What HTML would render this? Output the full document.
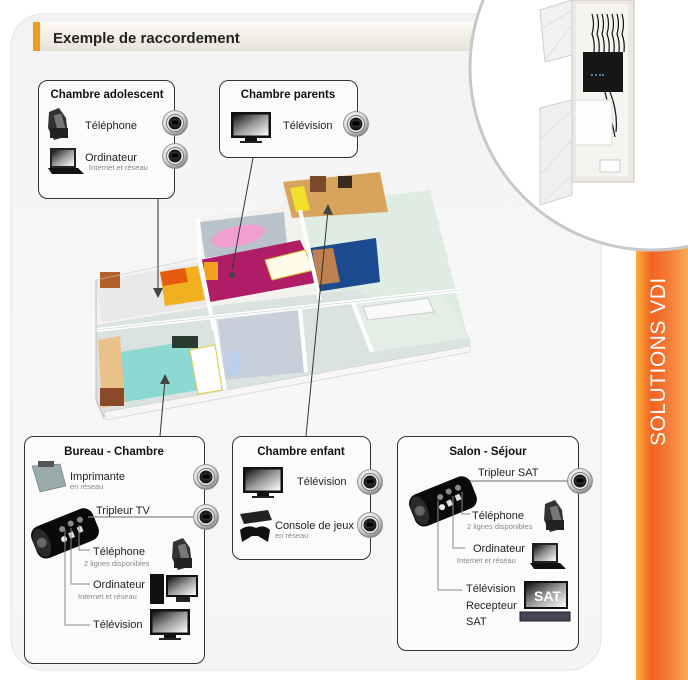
<!DOCTYPE html>
<html><head><meta charset="utf-8">
<style>
html,body{margin:0;padding:0;background:#fff;}
body{width:688px;height:680px;overflow:hidden;position:relative;font-family:"Liberation Sans",sans-serif;}
svg{position:absolute;left:0;top:0;}
.t{font-family:"Liberation Sans",sans-serif;fill:#222;font-size:11px;}
.s{font-family:"Liberation Sans",sans-serif;fill:#888;font-size:7.5px;}
.h{font-family:"Liberation Sans",sans-serif;fill:#111;font-size:11.5px;font-weight:bold;}
</style></head><body>
<svg width="688" height="680" viewBox="0 0 688 680" xmlns="http://www.w3.org/2000/svg">
<defs>
<linearGradient id="panel" x1="0" y1="0" x2="0" y2="1"><stop offset="0" stop-color="#f3f3f3"/><stop offset="0.5" stop-color="#f7f7f7"/><stop offset="1" stop-color="#f5f5f5"/></linearGradient>
<linearGradient id="org" x1="0" y1="0" x2="1" y2="0"><stop offset="0" stop-color="#fbb03a"/><stop offset="0.3" stop-color="#f26322"/><stop offset="0.6" stop-color="#f47a35"/><stop offset="1" stop-color="#fba85a"/></linearGradient>
<linearGradient id="title" x1="0" y1="0" x2="0" y2="1"><stop offset="0" stop-color="#fbf9f4"/><stop offset="1" stop-color="#e8e3da"/></linearGradient>
<radialGradient id="jack" cx="0.4" cy="0.35" r="0.7"><stop offset="0" stop-color="#ffffff"/><stop offset="0.6" stop-color="#d8d8d8"/><stop offset="1" stop-color="#777"/></radialGradient>
<linearGradient id="tv" x1="0" y1="0" x2="1" y2="1"><stop offset="0" stop-color="#111"/><stop offset="0.5" stop-color="#999"/><stop offset="1" stop-color="#fff"/></linearGradient>
<g id="j"><circle r="12.5" fill="url(#jack)" stroke="#888" stroke-width="0.8"/><circle r="8.5" fill="#f2f2f2" stroke="#777" stroke-width="1"/><circle r="6.5" fill="#1a1a1a"/><rect x="-4" y="-3" width="8" height="5" fill="#000" stroke="#555" stroke-width="0.6"/></g>
<g id="tvi"><rect x="0" y="0" width="40" height="26" fill="#111"/><rect x="2.5" y="2.5" width="35" height="21" fill="url(#tv)"/><rect x="14" y="26" width="12" height="3" fill="#111"/><rect x="9" y="29" width="22" height="2" fill="#222"/></g>
<g id="ph"><path d="M3 6 L13 2 L20 12 L22 30 L8 34 L2 22 Z" fill="#333"/><rect x="10" y="8" width="8" height="20" rx="2" fill="#777" transform="rotate(-15 14 18)"/><rect x="4" y="22" width="18" height="10" fill="#222"/></g>
<g id="lap"><path d="M2 0 L28 0 L28 20 L2 20 Z" fill="#222"/><rect x="4" y="2" width="22" height="16" fill="url(#tv)"/><path d="M0 20 L30 20 L36 26 L4 26 Z" fill="#111"/></g>
<g id="trip"><g transform="rotate(-22)"><rect x="0" y="0" width="66" height="34" rx="10" fill="#0a0a0a"/><ellipse cx="8" cy="17" rx="8" ry="15" fill="#2a2a2a"/><circle cx="8" cy="17" r="5" fill="#666"/><circle cx="32" cy="12" r="3" fill="#888"/><circle cx="42" cy="10" r="3" fill="#888"/><circle cx="52" cy="10" r="3" fill="#888"/><rect x="36" y="18" width="5" height="6" fill="#ddd"/><rect x="46" y="16" width="5" height="6" fill="#ddd"/><circle cx="30" cy="22" r="3" fill="#eee"/></g></g>
</defs>

<rect x="11" y="14" width="590" height="656" rx="32" fill="url(#panel)" stroke="#e4e4e4" stroke-width="1"/>
<rect x="636" y="245" width="52" height="435" fill="url(#org)"/>
<text x="0" y="0" transform="translate(665,446) rotate(-90)" font-family="Liberation Sans, sans-serif" font-size="21" fill="#fff" letter-spacing="0.5">SOLUTIONS VDI</text>

<rect x="33" y="22" width="450" height="29" fill="url(#title)"/>
<rect x="33" y="22" width="7" height="29" fill="#f39a1e"/>
<text x="53" y="43" font-family="Liberation Sans, sans-serif" font-size="15" font-weight="bold" fill="#222">Exemple de raccordement</text>

<circle cx="652" cy="68" r="182" fill="#fff" stroke="#c8c8c8" stroke-width="3"/>
<rect x="572" y="0" width="62" height="182" fill="#ece8e2" stroke="#c8c2b8"/>
<rect x="576" y="4" width="52" height="172" fill="#f6f4f0"/>
<g stroke="#111" stroke-width="1.2" fill="none">
<path d="M592 14 q3 10 0 20 q3 8 2 18"/><path d="M597 14 q3 10 0 20 q3 8 2 18"/><path d="M602 14 q3 10 0 20 q3 8 2 18"/><path d="M607 14 q3 10 0 20 q3 8 2 18"/><path d="M612 14 q3 10 0 20 q3 8 2 18"/><path d="M617 14 q3 10 0 20 q3 8 2 18"/><path d="M622 14 q3 10 0 20 q3 8 2 18"/>
<path d="M605 92 q5 20 10 45"/><path d="M610 92 q8 20 6 40"/>
</g>
<rect x="583" y="52" width="40" height="40" fill="#161616"/>
<circle cx="592" cy="75" r="0.9" fill="#8cf"/><circle cx="596" cy="75" r="0.9" fill="#8cf"/><circle cx="600" cy="75" r="0.9" fill="#8cf"/><circle cx="603" cy="75" r="0.9" fill="#8cf"/>
<rect x="575" y="100" width="37" height="45" fill="#fdfdfd" stroke="#ddd"/>
<rect x="600" y="160" width="20" height="12" fill="#fff" stroke="#ccc"/>
<path d="M540 10 L572 0 L572 55 L545 62 Z" fill="#f2f0f0" stroke="#d0cccc"/>
<path d="M540 108 L572 100 L572 195 L540 205 Z" fill="#f0eeee" stroke="#d0cccc"/>
<g stroke="#ddd" stroke-width="0.8"><path d="M540 30 L572 10"/><path d="M545 60 L572 25"/><path d="M540 140 L572 110"/><path d="M540 175 L572 140"/><path d="M545 200 L572 175"/></g>

<g>
<path d="M96 280 L198 258 L198 218 L283 206 L283 180 L380 172 L470 338 L470 350 L104 418 L96 400 Z" fill="#f4f2ef"/>
<path d="M300 206 L430 190 L468 338 L352 356 L320 300 Z" fill="#dfece4"/>
<path d="M283 182 L380 172 L388 212 L292 218 Z" fill="#d8a35c"/>
<path d="M290 188 L304 186 L310 210 L296 212 Z" fill="#f2e12a"/>
<rect x="310" y="176" width="16" height="16" fill="#7a4a2a"/>
<rect x="338" y="176" width="14" height="12" fill="#3a2a20"/>
<path d="M200 222 L284 212 L287 246 L205 258 Z" fill="#b9c3cc"/>
<ellipse cx="238" cy="236" rx="28" ry="10" fill="#f0a0d0" transform="rotate(-12 238 236)"/>
<path d="M200 260 L300 240 L320 282 L210 302 Z" fill="#b01c66"/>
<path d="M265 260 L305 250 L314 270 L272 280 Z" fill="#fffbe8" stroke="#d8c030"/>
<rect x="204" y="262" width="14" height="18" fill="#f4a020"/>
<path d="M310 248 L376 238 L380 282 L316 292 Z" fill="#1c4a90"/>
<path d="M312 250 L333 248 L340 282 L318 285 Z" fill="#c08050"/>
<path d="M96 282 L200 262 L210 305 L102 322 Z" fill="#ebe9e8"/>
<path d="M160 272 L198 266 L205 300 L165 306 Z" fill="#f0b020"/>
<path d="M160 272 L185 268 L188 282 L163 286 Z" fill="#e65a10"/>
<rect x="100" y="272" width="20" height="16" fill="#b0602a"/>
<path d="M96 325 L220 305 L355 290 L470 338 L470 350 L104 418 L96 400 Z" fill="#dbe3e0"/>
<path d="M120 352 L195 340 L200 390 L125 402 Z" fill="#8ed8d4"/>
<path d="M190 350 L215 345 L222 390 L198 394 Z" fill="#fff" stroke="#e0d040"/>
<rect x="172" y="336" width="26" height="12" fill="#2a3a30"/>
<path d="M98 340 L120 336 L125 402 L102 408 Z" fill="#e9c28a"/>
<rect x="100" y="388" width="24" height="18" fill="#8a4a2a"/>
<path d="M218 320 L300 310 L306 372 L225 380 Z" fill="#c9cfda"/>
<rect x="226" y="350" width="14" height="26" rx="6" fill="#bcd0ec"/>
<path d="M352 302 L440 290 L468 338 L370 352 Z" fill="#e4eee6"/>
<path d="M363 307 L428 298 L434 312 L368 320 Z" fill="#fafafa" stroke="#ccc"/>
<path d="M104 412 L470 346 L470 352 L106 420 Z" fill="#f8f6f4" stroke="#ccc" stroke-width="0.6"/>
<g stroke="#fff" stroke-width="4" fill="none">
<path d="M96 330 L460 290"/><path d="M200 260 L214 330"/><path d="M300 210 L320 300"/><path d="M352 300 L372 352"/><path d="M214 320 L225 390"/><path d="M300 310 L306 372"/><path d="M198 218 L200 262"/>
</g>
<g stroke="#ccc" stroke-width="0.6" fill="none"><path d="M96 330 L460 290"/><path d="M96 280 L198 258"/></g>
<path d="M96 280 L96 400 L104 418" fill="none" stroke="#bbb" stroke-width="1"/>
</g>

<g stroke="#333" stroke-width="1" fill="none">
<path d="M158 198 L158 292"/><path d="M253 158 L232 270"/><path d="M306 436 L328 210"/><path d="M160 436 L165 380"/>
</g>
<g fill="#444">
<path d="M158 298 L153 288 L163 288 Z"/><path d="M328 204 L323 214 L333 215 Z"/><path d="M165 374 L160 384 L170 384 Z"/>
<circle cx="232" cy="275" r="3"/>
</g>

<rect x="38.5" y="80.5" width="136" height="118" rx="9" fill="#fbfbfb" stroke="#333"/>
<text x="107" y="98" class="h" text-anchor="middle">Chambre adolescent</text>
<use href="#ph" x="46" y="106"/>
<text x="85" y="129" class="t">Téléphone</text>
<use href="#lap" x="48" y="148"/>
<text x="85" y="161" class="t">Ordinateur</text>
<text x="89" y="170" class="s">Internet et réseau</text>
<use href="#j" x="175" y="123"/><use href="#j" x="175" y="156"/>

<rect x="219.5" y="80.5" width="138" height="77" rx="9" fill="#fbfbfb" stroke="#333"/>
<text x="288" y="98" class="h" text-anchor="middle">Chambre parents</text>
<use href="#tvi" x="231" y="112"/>
<text x="283" y="129" class="t">Télévision</text>
<use href="#j" x="356" y="124"/>

<rect x="24.5" y="436.5" width="180" height="227" rx="9" fill="#fbfbfb" stroke="#333"/>
<text x="114" y="455" class="h" text-anchor="middle">Bureau - Chambre</text>
<path d="M32 466 L60 464 L66 486 L40 492 Z" fill="#9aa" stroke="#666" stroke-width="0.5"/>
<rect x="38" y="461" width="16" height="6" fill="#555"/>
<text x="70" y="480" class="t">Imprimante</text>
<text x="70" y="489" class="s">en réseau</text>
<use href="#trip" x="28" y="530"/>
<text x="96" y="514" class="t">Tripleur TV</text>
<path d="M88 517 L193 517" stroke="#888" stroke-width="1.2"/>
<g stroke="#888" stroke-width="1" fill="none"><path d="M79 525 L79 550 L90 550"/><path d="M71 528 L71 584 L90 584"/><path d="M65 530 L65 625 L90 625"/></g>
<text x="93" y="555" class="t">Téléphone</text>
<text x="84" y="566" class="s" font-size="8.5">2 lignes disponibles</text>
<use href="#ph" x="170" y="536"/>
<text x="93" y="588" class="t">Ordinateur</text>
<text x="78" y="599" class="s">Internet et réseau</text>
<rect x="150" y="574" width="14" height="30" fill="#111"/>
<rect x="166" y="575" width="32" height="22" fill="#111"/><rect x="168" y="577" width="28" height="18" fill="url(#tv)"/><rect x="176" y="597" width="14" height="5" fill="#222"/>
<text x="93" y="628" class="t">Télévision</text>
<use href="#tvi" x="150" y="609"/>
<use href="#j" x="206" y="477"/><use href="#j" x="206" y="517"/>

<rect x="232.5" y="436.5" width="138" height="123" rx="9" fill="#fbfbfb" stroke="#333"/>
<text x="301" y="455" class="h" text-anchor="middle">Chambre enfant</text>
<use href="#tvi" x="243" y="467"/>
<text x="297" y="485" class="t">Télévision</text>
<path d="M240 514 L268 510 L272 520 L244 524 Z" fill="#222"/>
<path d="M240 530 Q248 524 256 528 Q264 524 270 530 L268 542 L258 536 L252 536 L242 542 Z" fill="#111"/>
<text x="275" y="529" class="t">Console de jeux</text>
<text x="275" y="538" class="s">en réseau</text>
<use href="#j" x="370" y="482"/><use href="#j" x="370" y="525"/>

<rect x="397.5" y="436.5" width="181" height="214" rx="9" fill="#fbfbfb" stroke="#333"/>
<text x="488" y="455" class="h" text-anchor="middle">Salon - Séjour</text>
<use href="#trip" x="406" y="498"/>
<text x="478" y="476" class="t">Tripleur SAT</text>
<path d="M470 481 L568 481" stroke="#888" stroke-width="1.2"/>
<g stroke="#888" stroke-width="1" fill="none"><path d="M462 492 L462 514 L470 514"/><path d="M453 496 L453 548 L465 548"/><path d="M438 500 L438 590 L462 590"/></g>
<text x="472" y="519" class="t">Téléphone</text>
<text x="467" y="529" class="s" font-size="8.5">2 lignes disponibles</text>
<use href="#ph" x="542" y="498"/>
<text x="473" y="552" class="t">Ordinateur</text>
<text x="457" y="563" class="s">Internet et réseau</text>
<use href="#lap" x="530" y="543"/>
<text x="466" y="592" class="t">Télévision</text>
<text x="466" y="609" class="t">Recepteur</text>
<text x="466" y="625" class="t">SAT</text>
<rect x="524" y="581" width="44" height="28" fill="#111"/><rect x="526" y="583" width="40" height="24" fill="url(#tv)"/>
<text x="534" y="601" font-family="Liberation Sans, sans-serif" font-size="14" font-weight="bold" fill="#fff">SAT</text>
<rect x="520" y="612" width="50" height="9" fill="#445" stroke="#223"/>
<use href="#j" x="580" y="481"/>
</svg>
</body></html>
